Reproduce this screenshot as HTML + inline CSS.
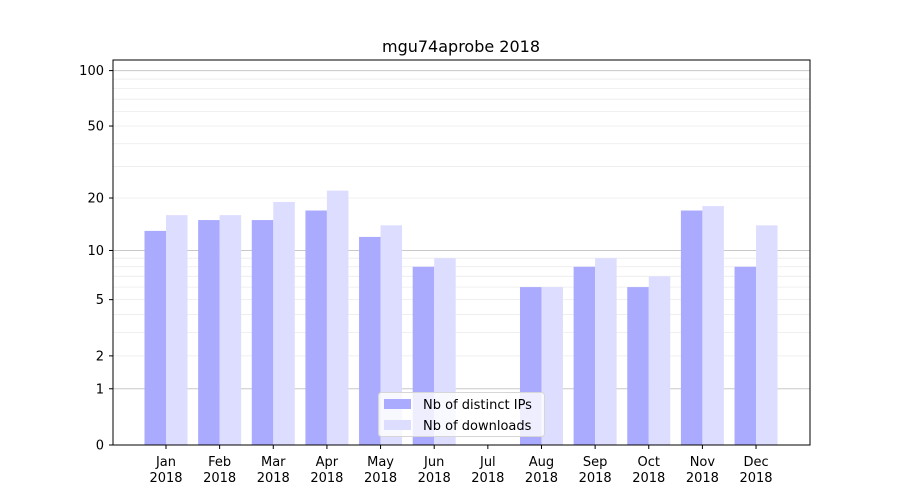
<!DOCTYPE html>
<html><head><meta charset="utf-8"><style>
body{margin:0;background:#fff;font-family:"DejaVu Sans","Liberation Sans",sans-serif}
</style></head><body>
<svg id="s" width="900" height="500" xmlns="http://www.w3.org/2000/svg" font-family="DejaVu Sans, Liberation Sans, sans-serif"></svg>
<script>
const s=document.getElementById('s');
const Y=v=>445-186.8*Math.log10(1+v);
let h='<rect width="900" height="500" fill="#fff"/>';
h+='<text x="461" y="52" font-size="16" text-anchor="middle" fill="#000">mgu74aprobe 2018</text>';
// grid
for(let d of [1,10]){for(let k=2;k<=9;k++){const y=Y(d*k);h+=`<line x1="113" x2="810" y1="${y}" y2="${y}" stroke="#ebebeb" stroke-width="0.8"/>`;}}
for(let v of [1,10,100]){const y=Y(v);h+=`<line x1="113" x2="810" y1="${y}" y2="${y}" stroke="#c8c8c8" stroke-width="1"/>`;}
const m=['Jan','Feb','Mar','Apr','May','Jun','Jul','Aug','Sep','Oct','Nov','Dec'];
const a=[13,15,15,17,12,8,0,6,8,6,17,8],b=[16,16,19,22,14,9,0,6,9,7,18,14];
for(let i=0;i<12;i++){const c=166+i*53.64;
if(a[i])h+=`<rect x="${c-21.5}" y="${Y(a[i])}" width="21.5" height="${445-Y(a[i])}" fill="#aaaaff"/>`;
if(b[i])h+=`<rect x="${c}" y="${Y(b[i])}" width="21.5" height="${445-Y(b[i])}" fill="#ddddff"/>`;
h+=`<line x1="${c}" x2="${c}" y1="445" y2="449" stroke="#000"/>`;
h+=`<text x="${c}" y="466" font-size="13" text-anchor="middle">${m[i]}</text><text x="${c}" y="482" font-size="13" text-anchor="middle">2018</text>`;}
for(let v of [0,1,2,5,10,20,50,100]){const y=Y(v);h+=`<line x1="109" x2="113" y1="${y}" y2="${y}" stroke="#000"/><text x="104" y="${y+4.5}" font-size="13" text-anchor="end">${v}</text>`;}
h+='<rect x="113" y="60" width="697" height="385" fill="none" stroke="#000" stroke-width="1"/>';
h+='<rect x="378.5" y="392.5" width="166" height="44" rx="3" fill="#fff" fill-opacity="0.8" stroke="#d6d6d6"/>';
h+='<rect x="384" y="399" width="27" height="10" fill="#aaaaff"/><text x="423" y="409" font-size="13">Nb of distinct IPs</text>';
h+='<rect x="384" y="420" width="27" height="10" fill="#ddddff"/><text x="423" y="430" font-size="13">Nb of downloads</text>';
s.innerHTML=h;
</script>
</body></html>
